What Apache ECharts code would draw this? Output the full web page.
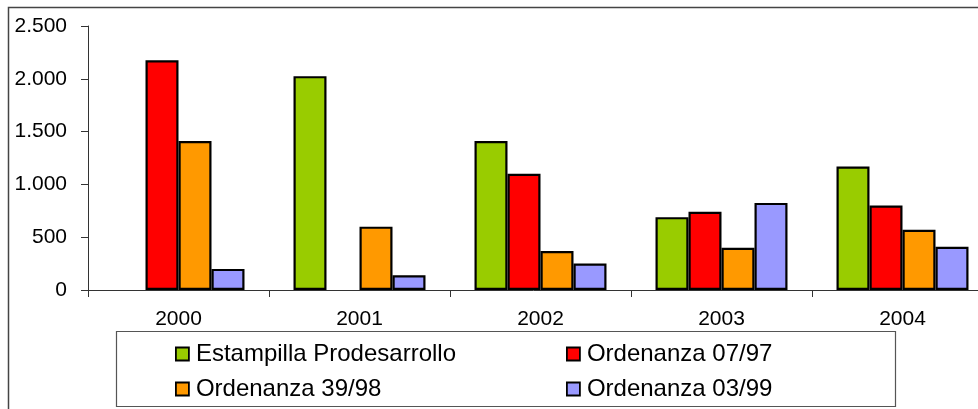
<!DOCTYPE html>
<html>
<head>
<meta charset="utf-8">
<script src="https://cdn.jsdelivr.net/npm/echarts@6/dist/echarts.min.js"></script>
<style>
  html, body { margin: 0; padding: 0; background: #fff; }
  #chart { width: 978px; height: 409px; }
</style>
</head>
<body>
<div id="chart"></div>
<script>
// datos
var years = ['2000', '2001', '2002', '2003', '2004']
var estampilla = [null, 2025, 1410, 690, 1170]
var ord0797 = [2175, null, 1100, 740, 800]
var ord3998 = [1410, 600, 370, 400, 570]
var ord0399 = [200, 140, 250, 825, 410]
var yTicks = [0, 500, 1000, 1500, 2000, 2500]

var myChart = echarts.init(document.getElementById('chart'))

var font = 'Liberation Sans, Arial, sans-serif'

function serie(name, data, color) {
  return {
    name: name,
    type: 'bar',
    data: data,
    barWidth: 33,
    barGap: '0%',
    itemStyle: { color: color, borderColor: '#000', borderWidth: 2.2 }
  }
}

var legendBase = {
  orient: 'vertical',
  top: 337,
  itemWidth: 13,
  itemHeight: 13,
  itemGap: 11,
  icon: 'rect',
  textStyle: { fontFamily: font, fontSize: 24, color: '#000', padding: [0, 0, 0, 2] },
  itemStyle: { borderColor: '#000', borderWidth: 1.8 }
}

var option = {
  animation: false,
  textStyle: { fontFamily: font },
  grid: { left: 88, top: 26, width: 905, height: 264, outerBoundsMode: 'none', containLabel: false },
  legend: [
    Object.assign({}, legendBase, { left: 170, data: ['Estampilla Prodesarrollo', 'Ordenanza 39/98'] }),
    Object.assign({}, legendBase, { left: 561, data: ['Ordenanza 07/97', 'Ordenanza 03/99'] })
  ],
  graphic: [
    {
      type: 'rect',
      shape: { x: 8.5, y: 7.5, width: 1100, height: 600 },
      style: { fill: 'none', stroke: '#444', lineWidth: 1.5 },
      silent: true
    },
    {
      type: 'rect',
      shape: { x: 116.5, y: 331.5, width: 779, height: 75 },
      style: { fill: 'none', stroke: '#555', lineWidth: 1.2 },
      silent: true
    }
  ],
  xAxis: {
    type: 'category',
    data: years,
    axisLine: { lineStyle: { color: '#333', width: 1 } },
    axisTick: { show: true, length: 7, lineStyle: { color: '#333' } },
    axisLabel: { fontSize: 21, color: '#000', margin: 19, fontFamily: font }
  },
  yAxis: {
    type: 'value',
    min: yTicks[0],
    max: yTicks[yTicks.length - 1],
    interval: 500,
    axisLine: { show: true, lineStyle: { color: '#333', width: 1 } },
    axisTick: { show: true, length: 7, lineStyle: { color: '#333' } },
    splitLine: { show: false },
    axisLabel: {
      fontSize: 21,
      color: '#000',
      margin: 21,
      fontFamily: font,
      formatter: function (v) {
        return String(v).replace(/\B(?=(\d{3})+(?!\d))/g, '.')
      }
    }
  },
  series: [
    serie('Estampilla Prodesarrollo', estampilla, '#99CC00'),
    serie('Ordenanza 07/97', ord0797, '#FF0000'),
    serie('Ordenanza 39/98', ord3998, '#FF9900'),
    serie('Ordenanza 03/99', ord0399, '#9999FF')
  ]
}

myChart.setOption(option)
</script>
</body>
</html>
